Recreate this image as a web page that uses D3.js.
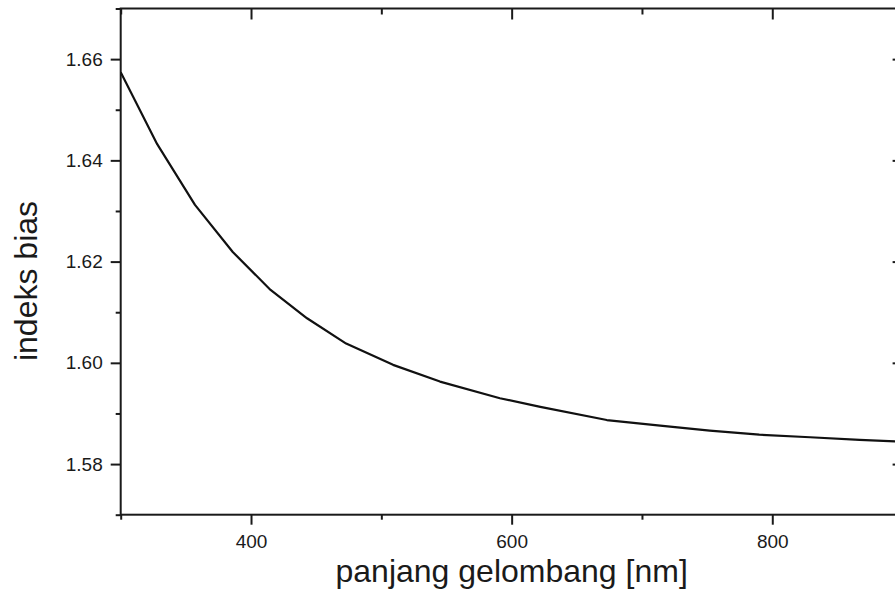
<!DOCTYPE html>
<html>
<head>
<meta charset="utf-8">
<script src="https://cdn.jsdelivr.net/npm/d3@7"></script>
<style>
  html, body { margin: 0; padding: 0; background: #fff; }
  svg { display: block; }
  text { font-family: "Liberation Sans", Arial, sans-serif; fill: #1a1a1a; }
</style>
</head>
<body>
<svg id="chart" width="895" height="611"></svg>
<script>
// ---- data ----
const wavelength = [300, 328, 357, 386, 415, 443, 473, 509, 545, 591, 622, 673, 714, 752, 790, 829, 867, 900];
const refIndex   = [1.6574, 1.6432, 1.6312, 1.6219, 1.6144, 1.6088, 1.6038, 1.5996, 1.5963, 1.5930, 1.5913, 1.5887, 1.5876, 1.5866, 1.5858, 1.5853, 1.5848, 1.5844];
const xMajorTicks = [400, 600, 800];
const xMinorTicks = [300, 500, 700, 900];
const yMajorTicks = [1.58, 1.60, 1.62, 1.64, 1.66];
const yMinorTicks = [1.57, 1.59, 1.61, 1.63, 1.65, 1.67];
const xLabel = "panjang gelombang [nm]";
const yLabel = "indeks bias";

(function () {
// ---- layout ----
const svg = d3.select("#chart");
const pLeft = 120.7, pRight = 902.6, pTop = 8.5, pBottom = 514.7;
const x = d3.scaleLinear().domain([300, 900]).range([pLeft, pRight]);
const y = d3.scaleLinear().domain([1.57, 1.67]).range([pBottom, pTop]);
const ink = "#1a1a1a";

const data = wavelength.map((w, i) => ({ w, n: refIndex[i] }));

svg.append("defs").append("clipPath").attr("id", "plotclip")
  .append("rect").attr("x", pLeft).attr("y", pTop).attr("width", pRight - pLeft).attr("height", pBottom - pTop);

function styleAxis(g, showText) {
  g.select(".domain").remove();
  g.selectAll(".tick line").attr("stroke", ink).attr("stroke-width", 2);
  if (!showText) g.selectAll(".tick text").remove();
  else g.selectAll(".tick text").attr("font-size", 19).attr("fill", ink)
        .attr("font-family", "Liberation Sans, Arial, sans-serif");
}

// bottom axis (outward ticks)
svg.append("g").attr("transform", `translate(0,${pBottom})`)
  .call(d3.axisBottom(x).tickValues(xMajorTicks).tickSize(10).tickPadding(9.5).tickFormat(d3.format("d")))
  .call(g => styleAxis(g, true));
svg.append("g").attr("transform", `translate(0,${pBottom})`)
  .call(d3.axisBottom(x).tickValues(xMinorTicks).tickSize(5))
  .call(g => styleAxis(g, false));

// top axis (inward ticks)
svg.append("g").attr("transform", `translate(0,${pTop})`)
  .call(d3.axisTop(x).tickValues(xMajorTicks).tickSize(-11))
  .call(g => styleAxis(g, false));
svg.append("g").attr("transform", `translate(0,${pTop})`)
  .call(d3.axisTop(x).tickValues(xMinorTicks).tickSize(-6))
  .call(g => styleAxis(g, false));

// left axis (outward ticks)
svg.append("g").attr("transform", `translate(${pLeft},0)`)
  .call(d3.axisLeft(y).tickValues(yMajorTicks).tickSize(10).tickPadding(8).tickFormat(d3.format(".2f")))
  .call(g => styleAxis(g, true));
svg.append("g").attr("transform", `translate(${pLeft},0)`)
  .call(d3.axisLeft(y).tickValues(yMinorTicks).tickSize(5))
  .call(g => styleAxis(g, false));

// right axis (inward ticks)
svg.append("g").attr("transform", `translate(${pRight},0)`)
  .call(d3.axisRight(y).tickValues(yMajorTicks).tickSize(-10))
  .call(g => styleAxis(g, false));
svg.append("g").attr("transform", `translate(${pRight},0)`)
  .call(d3.axisRight(y).tickValues(yMinorTicks).tickSize(-5))
  .call(g => styleAxis(g, false));

// frame
svg.append("rect")
  .attr("x", pLeft).attr("y", pTop)
  .attr("width", pRight - pLeft).attr("height", pBottom - pTop)
  .attr("fill", "none").attr("stroke", ink).attr("stroke-width", 2);

// curve
const line = d3.line().x(d => x(d.w)).y(d => y(d.n));
svg.append("path")
  .datum(data)
  .attr("clip-path", "url(#plotclip)")
  .attr("d", line)
  .attr("fill", "none")
  .attr("stroke", "#111")
  .attr("stroke-width", 2.2)
  .attr("stroke-linejoin", "round");

// axis titles
svg.append("text")
  .attr("x", (pLeft + pRight) / 2).attr("y", 582)
  .attr("text-anchor", "middle")
  .attr("font-size", 32)
  .text(xLabel);

svg.append("text")
  .attr("transform", `translate(37,281) rotate(-90)`)
  .attr("text-anchor", "middle")
  .attr("font-size", 32)
  .text(yLabel);
})();
</script>
</body>
</html>
